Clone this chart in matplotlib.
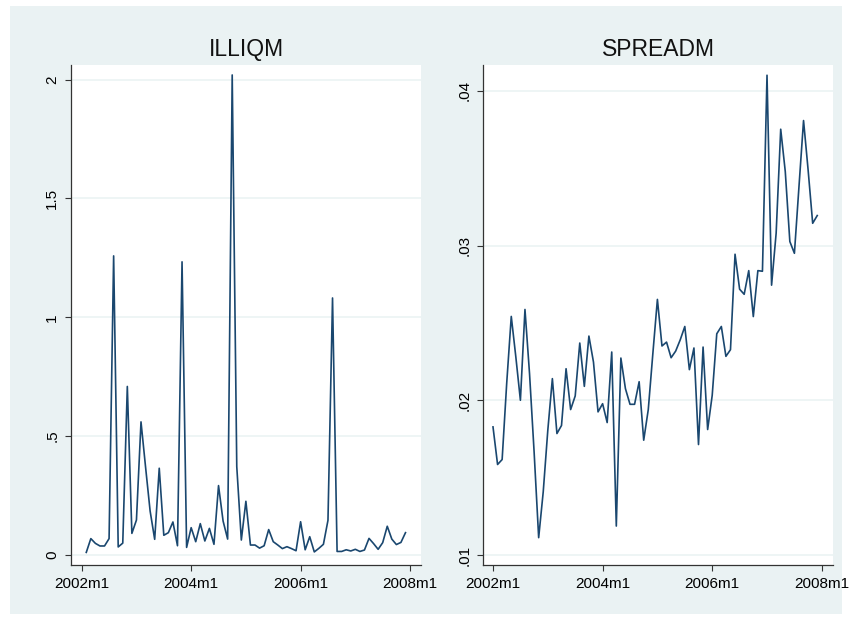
import numpy as np
import matplotlib.pyplot as plt
from matplotlib.patches import Rectangle

plt.rcParams['font.family'] = ['Liberation Sans', 'DejaVu Sans']

# monthly series, month index counted from 2002m1
illiqm_start = 1   # ILLIQM starts at 2002m2
illiqm = [
    0.011, 0.069, 0.049, 0.038, 0.038, 0.069, 1.258, 0.034, 0.050, 0.709, 0.091,
    0.147, 0.560, 0.370, 0.185, 0.066, 0.365, 0.083, 0.094, 0.139, 0.039, 1.233, 0.032,
    0.115, 0.056, 0.132, 0.059, 0.112, 0.045, 0.292, 0.143, 0.067, 2.019, 0.372, 0.063,
    0.226, 0.042, 0.042, 0.029, 0.039, 0.107, 0.056, 0.042, 0.027, 0.035, 0.027, 0.018,
    0.140, 0.022, 0.077, 0.013, 0.028, 0.045, 0.146, 1.081, 0.015, 0.015, 0.022, 0.017,
    0.024, 0.015, 0.021, 0.070, 0.048, 0.024, 0.052, 0.121, 0.067, 0.044, 0.053, 0.094,
]

spreadm_start = 0  # SPREADM starts at 2002m1
spreadm = [
    0.01828, 0.01585, 0.01617, 0.02110, 0.02542, 0.02280, 0.02000, 0.02587, 0.02172, 0.01667, 0.01112, 0.01409,
    0.01806, 0.02140, 0.01785, 0.01837, 0.02204, 0.01940, 0.02028, 0.02370, 0.02090, 0.02415, 0.02247, 0.01925,
    0.01978, 0.01856, 0.02312, 0.01187, 0.02273, 0.02075, 0.01974, 0.01974, 0.02120, 0.01742, 0.01940, 0.02301,
    0.02652, 0.02351, 0.02376, 0.02275, 0.02318, 0.02391, 0.02477, 0.02198, 0.02338, 0.01714, 0.02344, 0.01811,
    0.02032, 0.02430, 0.02477, 0.02284, 0.02327, 0.02944, 0.02718, 0.02685, 0.02838, 0.02541, 0.02838, 0.02834,
    0.04101, 0.02744, 0.03080, 0.03752, 0.03478, 0.03026, 0.02950, 0.03381, 0.03808, 0.03489, 0.03144, 0.03194,
]

xtick_pos = [0, 24, 48, 72]
xtick_labels = ["2002m1", "2004m1", "2006m1", "2008m1"]

illiq_ticks = [0, 0.5, 1, 1.5, 2]
illiq_labels = ["0", ".5", "1", "1.5", "2"]
spread_ticks = [0.01, 0.02, 0.03, 0.04]
spread_labels = [".01", ".02", ".03", ".04"]

bg = "#EAF2F3"
line_col = "#1A476F"
axis_col = "#333333"

W, H = 852, 624
fig = plt.figure(figsize=(W / 100, H / 100), dpi=100)
fig.patch.set_facecolor("white")
fig.patches.append(Rectangle((10 / W, 1 - 614 / H), 832 / W, 608 / H,
                             transform=fig.transFigure, facecolor=bg,
                             edgecolor="none", zorder=-10))


def panel(left, right, title, start, vals, yticks, ylabels, xlim, ylim):
    ax = fig.add_axes([left / W, 1 - 565 / H, (right - left) / W, 500 / H])
    x = np.arange(start, start + len(vals))
    ax.plot(x, vals, color=line_col, lw=1.2, zorder=3)
    ax.set_xlim(*xlim)
    ax.set_ylim(*ylim)
    ax.set_facecolor("white")
    for s in ["top", "right"]:
        ax.spines[s].set_visible(False)
    for s in ["left", "bottom"]:
        ax.spines[s].set_color(axis_col)
        ax.spines[s].set_linewidth(0.9)
    ax.set_xticks(xtick_pos)
    ax.set_xticklabels(xtick_labels, fontsize=11)
    ax.set_yticks(yticks)
    ax.set_yticklabels(ylabels, fontsize=11, rotation=90, va="center")
    ax.tick_params(direction="out", length=4.5, width=0.8, color=axis_col, pad=4)
    ax.grid(axis="y", color=bg, lw=1.1, zorder=0)
    ax.set_title(title, fontsize=16.5, pad=6.5, color="#111111")
    return ax


panel(71, 421, "ILLIQM", illiqm_start, illiqm, illiq_ticks, illiq_labels,
      (-2.35, 74.4), (-0.042, 2.061))
panel(483, 833, "SPREADM", spreadm_start, spreadm, spread_ticks, spread_labels,
      (-2.19, 74.45), (0.009354, 0.04167))

fig.savefig("out.png", dpi=100, facecolor=fig.get_facecolor())
